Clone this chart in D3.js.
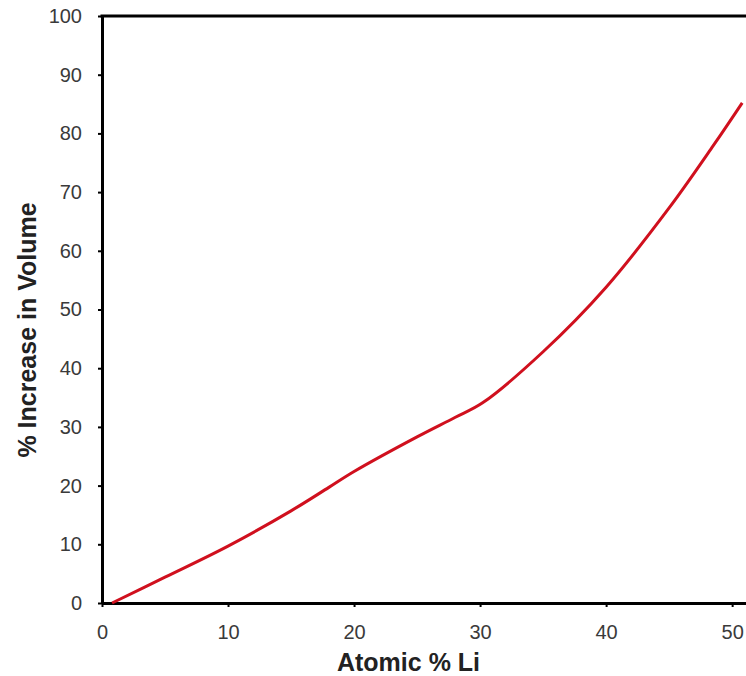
<!DOCTYPE html>
<html><head><meta charset="utf-8">
<script src="https://cdn.jsdelivr.net/npm/d3@7/dist/d3.min.js"></script>
<style>body{margin:0;background:#fff}svg{display:block}</style>
</head><body>
<svg id="c" width="746" height="676"></svg>
<script>
const xValues = [0.8, 5, 10, 15, 18, 20, 25, 28, 30.2, 35, 40, 45, 48.5, 50.8];
const yValues = [0, 4.4, 9.7, 15.7, 19.7, 22.4, 28.3, 31.6, 34.1, 42.8, 53.8, 67.3, 77.9, 85.2];
const xTicks = [0, 10, 20, 30, 40, 50];
const yTicks = [0, 10, 20, 30, 40, 50, 60, 70, 80, 90, 100];
const xTitle = "Atomic % Li";
const yTitle = "% Increase in Volume";

const svg = d3.select("#c");
const L = 102, R = 746, T = 16, B = 603;
const x = d3.scaleLinear().domain([0, 51.1]).range([L, R]);
const y = d3.scaleLinear().domain([0, 100]).range([B, T]);
const font = "'Liberation Sans', Arial, sans-serif";

const xa = svg.append("g").attr("transform", `translate(0,${B})`)
  .call(d3.axisBottom(x).tickValues(xTicks).tickSize(4).tickPadding(18).tickSizeOuter(0));
const ya = svg.append("g").attr("transform", `translate(${L},0)`)
  .call(d3.axisLeft(y).tickValues(yTicks).tickSize(4).tickPadding(16).tickSizeOuter(0));
[xa, ya].forEach(a => {
  a.select(".domain").attr("stroke", "#000").attr("stroke-width", 3);
  a.selectAll(".tick line").attr("stroke", "#000").attr("stroke-width", 2);
  a.selectAll(".tick text").attr("font-family", font).attr("font-size", 20).attr("fill", "#3a3a3a");
});
// top border
svg.append("line").attr("x1", L - 1.5).attr("x2", R).attr("y1", T).attr("y2", T)
  .attr("stroke", "#000").attr("stroke-width", 3);

const data = xValues.map((v, i) => [v, yValues[i]]);
svg.append("path").datum(data)
  .attr("d", d3.line().x(d => x(d[0])).y(d => y(d[1])).curve(d3.curveCatmullRom.alpha(0.5)))
  .attr("fill", "none").attr("stroke", "#d0101e").attr("stroke-width", 3);

svg.append("text").attr("x", 408.5).attr("y", 671).attr("text-anchor", "middle")
  .attr("font-family", font).attr("font-weight", "bold").attr("font-size", 25).attr("fill", "#222")
  .text(xTitle);
svg.append("text").attr("transform", `translate(36,330) rotate(-90)`)
  .attr("text-anchor", "middle")
  .attr("font-family", font).attr("font-weight", "bold").attr("font-size", 25).attr("fill", "#222")
  .text(yTitle);
</script>
</body></html>
